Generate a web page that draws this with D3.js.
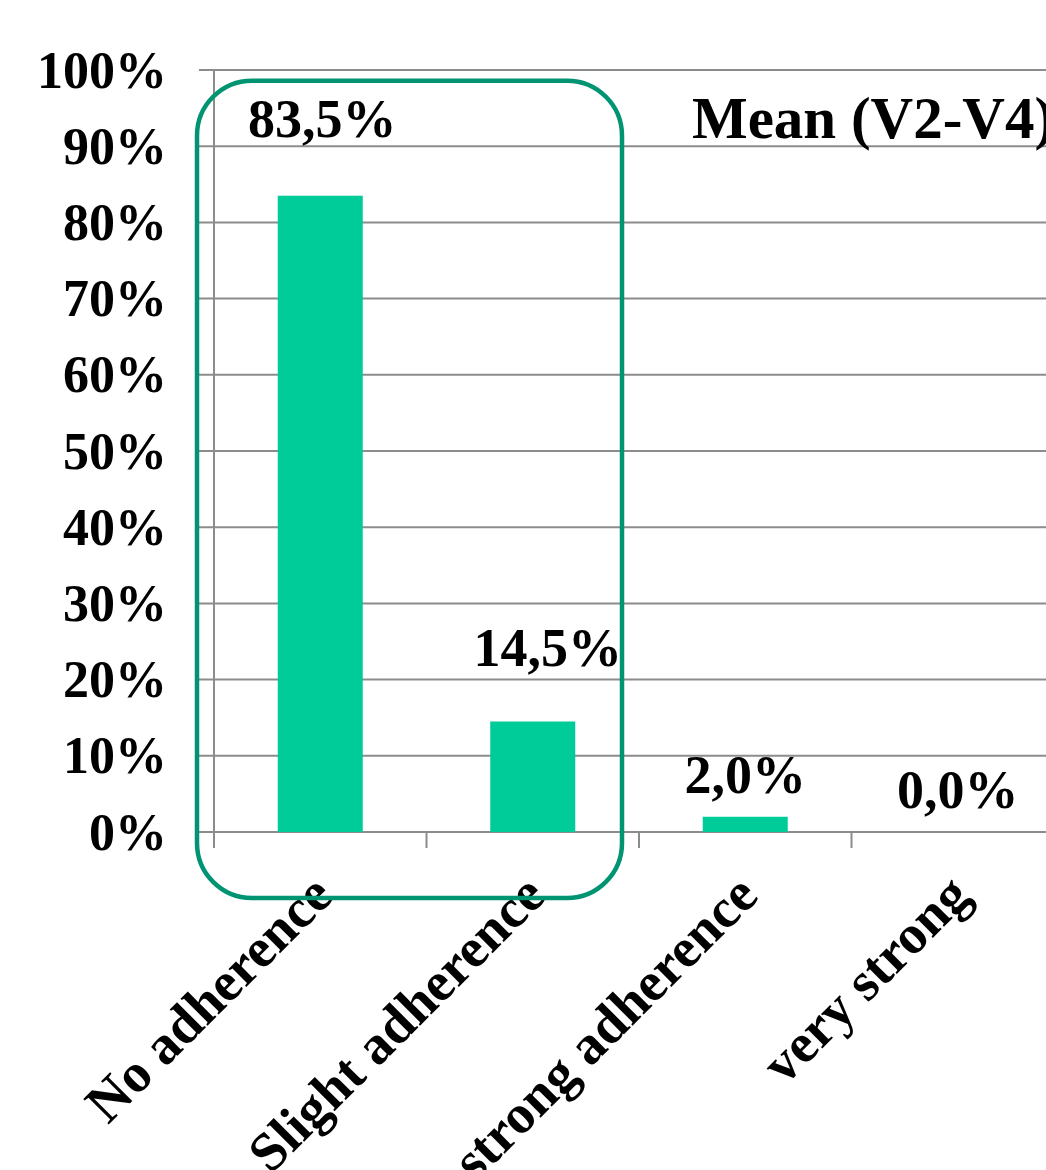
<!DOCTYPE html>
<html>
<head>
<meta charset="utf-8">
<script src="https://cdn.jsdelivr.net/npm/d3@7"></script>
<style>
  body { margin: 0; background: #fff; }
  svg text { font-family: "Liberation Serif", "Times New Roman", serif; font-weight: bold; fill: #000; }
</style>
</head>
<body>
<div id="plot"></div>
<script>
// data
let categories = ['No adherence', 'Slight adherence', 'strong adherence', 'very strong'];
let values = [0.835, 0.145, 0.02, 0.0];
let valueLabels = ['83,5%', '14,5%', '2,0%', '0,0%'];
let yTicks = [0, 0.1, 0.2, 0.3, 0.4, 0.5, 0.6, 0.7, 0.8, 0.9, 1.0];
let title = 'Mean (V2-V4)';

let svgWidth = 1046;
let svgHeight = 1170;
let margin = {top: 70, left: 214, bottom: 338};
let plotRight = 1064;
let baseY = svgHeight - margin.bottom;

let svg = d3.select('#plot')
            .append('svg')
                .attr('width', svgWidth)
                .attr('height', svgHeight);

let x = d3.scaleBand()
            .domain(categories)
            .range([margin.left, plotRight])
            .padding(0);

let y = d3.scaleLinear()
            .domain([0, 1])
            .range([baseY, margin.top]);

let barW = 85;
let fmt = d3.format('.0%');

// grid lines
svg.append('g')
    .selectAll('line')
    .data(yTicks)
    .join('line')
        .attr('x1', margin.left - 15)
        .attr('x2', plotRight)
        .attr('y1', d => y(d))
        .attr('y2', d => y(d))
        .attr('stroke', '#8c8c8c')
        .attr('stroke-width', 2);

// y axis line
svg.append('line')
    .attr('x1', margin.left).attr('x2', margin.left)
    .attr('y1', y(1)).attr('y2', baseY + 16)
    .attr('stroke', '#8c8c8c')
    .attr('stroke-width', 2);

// category ticks
svg.append('g')
    .selectAll('line')
    .data(categories.slice(1))
    .join('line')
        .attr('x1', d => x(d)).attr('x2', d => x(d))
        .attr('y1', baseY).attr('y2', baseY + 16)
        .attr('stroke', '#8c8c8c')
        .attr('stroke-width', 2);

// y tick labels
svg.append('g')
    .selectAll('text')
    .data(yTicks)
    .join('text')
        .attr('x', 167)
        .attr('y', d => y(d))
        .attr('dy', '0.34em')
        .attr('text-anchor', 'end')
        .style('font-size', '52px')
        .text(d => fmt(d));

// bars
svg.append('g')
    .selectAll('rect')
    .data(values)
    .join('rect')
        .attr('x', (d, i) => x(categories[i]) + (x.bandwidth() - barW) / 2)
        .attr('y', d => y(d))
        .attr('width', barW)
        .attr('height', d => baseY - y(d))
        .attr('fill', '#00cc99');

// value labels (first two were dragged in the original)
let nudge = [[2, -59], [15, -56], [0, -24], [0, -24]];
svg.append('g')
    .selectAll('text')
    .data(values)
    .join('text')
        .attr('x', (d, i) => x(categories[i]) + x.bandwidth() / 2 + nudge[i][0])
        .attr('y', (d, i) => y(d) + nudge[i][1])
        .attr('text-anchor', 'middle')
        .style('font-size', '54px')
        .text((d, i) => valueLabels[i]);

// category labels, rotated
svg.append('g')
    .selectAll('text')
    .data(categories)
    .join('text')
        .attr('transform', d => `translate(${x(d) + x.bandwidth() / 2 + 15},${baseY + 66}) rotate(-45)`)
        .attr('text-anchor', 'end')
        .style('font-size', '55px')
        .text(d => d);

// highlight box round the first two bars
let boxL = x(categories[0]) - 17;
let boxR = x(categories[1]) + x.bandwidth() - 17;
svg.append('rect')
    .attr('x', boxL)
    .attr('y', y(0.986))
    .attr('width', boxR - boxL)
    .attr('height', baseY + 66 - y(0.986))
    .attr('rx', 55)
    .attr('ry', 55)
    .attr('fill', 'none')
    .attr('stroke', '#009473')
    .attr('stroke-width', 4.5);

// title
svg.append('text')
    .attr('x', 692)
    .attr('y', 138)
    .style('font-size', '59px')
    .text(title);
</script>
</body>
</html>
